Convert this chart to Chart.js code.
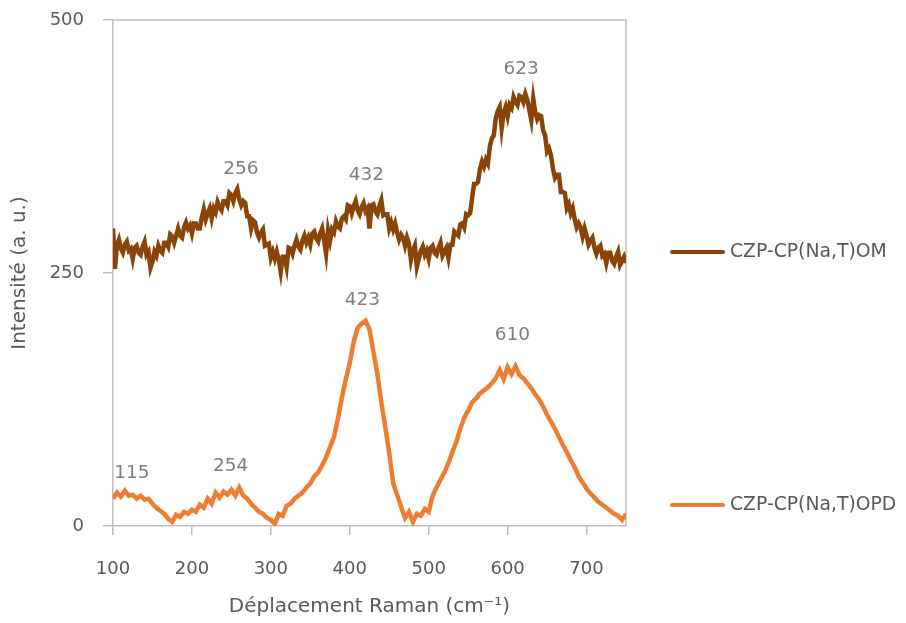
<!DOCTYPE html>
<html>
<head>
<meta charset="utf-8">
<script src="https://cdn.jsdelivr.net/npm/chart.js@4.4.1/dist/chart.umd.min.js"></script>
<style>
  html, body { margin: 0; padding: 0; background: #fff; }
  #wrap { width: 906px; height: 623px; }
</style>
</head>
<body>
<div id="wrap"><canvas id="chart" width="906" height="623"></canvas></div>
<script>
// Raman shift (cm-1) for the OM spectrum
const omShifts = [
  100, 102.5, 105, 107.5, 110, 112.5, 115, 117.5, 120, 122.5, 125, 127.5, 130, 132.5, 135, 137.5, 140, 142.5, 145, 147.5,
  150, 152.5, 155, 157.5, 160, 162.5, 165, 167.5, 170, 172.5, 175, 177.5, 180, 182.5, 185, 187.5, 190, 192.5, 195, 197.5,
  200, 202.5, 205, 207.5, 210, 212.5, 215, 217.5, 220, 222.5, 225, 227.5, 230, 232.5, 235, 237.5, 240, 242.5, 245, 247.5,
  250, 252.5, 255, 257.5, 260, 262.5, 265, 267.5, 270, 272.5, 275, 277.5, 280, 282.5, 285, 287.5, 290, 292.5, 295, 297.5,
  300, 302.5, 305, 307.5, 310, 312.5, 315, 317.5, 320, 322.5, 325, 327.5, 330, 332.5, 335, 337.5, 340, 342.5, 345, 347.5,
  350, 352.5, 355, 357.5, 360, 362.5, 365, 367.5, 370, 372.5, 375, 377.5, 380, 382.5, 385, 387.5, 390, 392.5, 395, 397.5,
  400, 402.5, 405, 407.5, 410, 412.5, 415, 417.5, 420, 422.5, 425, 427.5, 430, 432.5, 435, 437.5, 440, 442.5, 445, 447.5,
  450, 452.5, 455, 457.5, 460, 462.5, 465, 467.5, 470, 472.5, 475, 477.5, 480, 482.5, 485, 487.5, 490, 492.5, 495, 497.5,
  500, 502.5, 505, 507.5, 510, 512.5, 515, 517.5, 520, 522.5, 525, 527.5, 530, 532.5, 535, 537.5, 540, 542.5, 545, 547.5,
  550, 552.5, 555, 557.5, 560, 562.5, 565, 567.5, 570, 572.5, 575, 577.5, 580, 582.5, 585, 587.5, 590, 592.5, 595, 597.5,
  600, 602.5, 605, 607.5, 610, 612.5, 615, 617.5, 620, 622.5, 625, 627.5, 630, 632.5, 635, 637.5, 640, 642.5, 645, 647.5,
  650, 652.5, 655, 657.5, 660, 662.5, 665, 667.5, 670, 672.5, 675, 677.5, 680, 682.5, 685, 687.5, 690, 692.5, 695, 697.5,
  700, 702.5, 705, 707.5, 710, 712.5, 715, 717.5, 720, 722.5, 725, 727.5, 730, 732.5, 735, 737.5, 740, 742.5, 745, 747.5,
  750
];

const omValues = [
  294, 254, 278, 283, 274, 270, 278, 281, 272, 274, 264, 275, 277, 270, 268, 276, 281, 268, 271, 255,
  261, 271, 267, 277, 272, 270, 280, 280, 276, 288, 286, 280, 287, 294, 287, 285, 295, 300, 294, 297,
  289, 299, 299, 294, 294, 305, 313, 303, 309, 314, 304, 314, 310, 320, 315, 312, 321, 321, 317, 329,
  327, 321, 329, 333, 323, 317, 321, 319, 306, 306, 294, 302, 300, 290, 285, 290, 293, 277, 278, 279,
  265, 271, 264, 271, 263, 251, 266, 266, 256, 275, 274, 269, 277, 283, 276, 273, 282, 287, 280, 285,
  278, 289, 291, 284, 281, 289, 294, 282, 269, 292, 282, 293, 290, 301, 296, 294, 304, 306, 303, 317,
  316, 309, 316, 321, 312, 308, 315, 319, 311, 314, 294, 317, 318, 311, 308, 316, 322, 307, 308, 308,
  294, 300, 293, 299, 290, 283, 288, 285, 277, 285, 279, 263, 272, 277, 256, 264, 272, 276, 268, 272,
  264, 275, 277, 270, 268, 275, 280, 267, 271, 275, 265, 278, 278, 291, 289, 287, 298, 299, 295, 308,
  307, 309, 324, 338, 338, 340, 353, 360, 355, 362, 358, 375, 383, 386, 403, 410, 414, 393, 408, 414,
  405, 416, 413, 424, 419, 416, 425, 424, 419, 427, 421, 411, 401, 422, 409, 402, 406, 405, 391, 386,
  370, 373, 366, 353, 344, 347, 347, 330, 330, 329, 314, 318, 309, 314, 303, 295, 299, 295, 286, 294,
  287, 278, 282, 285, 275, 269, 275, 277, 267, 269, 260, 270, 270, 262, 259, 266, 271, 258, 262, 266,
  260
];

// Raman shift (cm-1) for the OPD spectrum
const opdShifts = [
  100, 105, 110, 115, 120, 125, 130, 135, 140, 145, 150, 155, 160, 165, 170, 175, 180, 185, 190, 195,
  200, 205, 210, 215, 220, 225, 230, 235, 240, 245, 250, 255, 260, 265, 270, 275, 280, 285, 290, 295,
  300, 305, 310, 315, 320, 325, 330, 335, 340, 345, 350, 355, 360, 365, 370, 375, 380, 385, 390, 395,
  400, 405, 410, 415, 420, 425, 430, 435, 440, 445, 450, 455, 460, 465, 470, 475, 480, 485, 490, 495,
  500, 505, 510, 515, 520, 525, 530, 535, 540, 545, 550, 555, 560, 565, 570, 575, 580, 585, 590, 595,
  600, 605, 610, 615, 620, 625, 630, 635, 640, 645, 650, 655, 660, 665, 670, 675, 680, 685, 690, 695,
  700, 705, 710, 715, 720, 725, 730, 735, 740, 745, 750
];

const opdValues = [
  27, 33, 29, 35, 30, 31, 27, 30, 26, 27, 22, 18, 15, 12, 7, 4, 11, 9, 14, 12,
  16, 14, 21, 18, 27, 22, 33, 28, 34, 31, 36, 30, 38, 30, 27, 22, 18, 14, 12, 8,
  6, 2, 12, 10, 20, 22, 27, 30, 33, 38, 42, 49, 53, 60, 68, 78, 88, 106, 127, 145,
  161, 182, 196, 200, 203, 194, 172, 150, 122, 98, 72, 42, 31, 19, 8, 14, 4, 12, 10, 17,
  14, 30, 38, 46, 53, 62, 73, 83, 96, 107, 114, 122, 126, 131, 134, 137, 141, 146, 154, 145,
  157, 150, 158, 149, 146, 141, 136, 130, 125, 118, 110, 103, 96, 88, 80, 73, 65, 58, 49, 43,
  37, 32, 28, 24, 21, 18, 15, 12, 10, 6, 12
];

const seriesNames = ['CZP-CP(Na,T)OM', 'CZP-CP(Na,T)OPD'];
const seriesColors = ['#8a4406', '#ed7d31'];

// peak labels: text, shift and intensity where the label sits
const peakTexts = ['256', '432', '623', '423', '610', '115', '254'];
const peakShifts = [262, 421, 617, 416, 606, 124, 249];
const peakLevels = [353, 347, 451, 223, 189, 52, 59];

const FONT = '"DejaVu Sans", sans-serif';
const GRAY = '#bfbfbf';
const TEXT = '#595959';

function toPoints(xs, ys) {
  return xs.map((x, i) => ({ x: x, y: ys[i] }));
}

const frame = {
  id: 'frame',
  beforeDatasetsDraw(chart) {
    const a = chart.chartArea;
    const ctx = chart.ctx;
    ctx.save();
    ctx.strokeStyle = GRAY;
    ctx.lineWidth = 1.5;
    ctx.beginPath();
    ctx.moveTo(a.left, a.top);
    ctx.lineTo(a.right, a.top);
    ctx.lineTo(a.right, a.bottom);
    ctx.stroke();
    ctx.restore();
  }
};

const peakLabels = {
  id: 'peakLabels',
  afterDatasetsDraw(chart) {
    const ctx = chart.ctx;
    const xs = chart.scales.x, ys = chart.scales.y;
    ctx.save();
    ctx.fillStyle = '#7f7f7f';
    ctx.font = '18.5px ' + FONT;
    ctx.textAlign = 'center';
    ctx.textBaseline = 'middle';
    peakTexts.forEach((t, i) => {
      ctx.fillText(t, xs.getPixelForValue(peakShifts[i]), ys.getPixelForValue(peakLevels[i]));
    });
    ctx.restore();
  }
};

const sideLegend = {
  id: 'sideLegend',
  afterDraw(chart) {
    const ctx = chart.ctx;
    const a = chart.chartArea;
    const rows = [a.top + 232, a.top + 485];
    ctx.save();
    ctx.font = '18.8px ' + FONT;
    ctx.textAlign = 'left';
    ctx.textBaseline = 'middle';
    chart.data.datasets.forEach((ds, i) => {
      const y = rows[i];
      ctx.strokeStyle = ds.borderColor;
      ctx.lineWidth = 4;
      ctx.lineCap = 'round';
      ctx.beginPath();
      ctx.moveTo(a.right + 46, y);
      ctx.lineTo(a.right + 97, y);
      ctx.stroke();
      ctx.fillStyle = TEXT;
      ctx.fillText(ds.label, a.right + 104, y);
    });
    ctx.restore();
  }
};

new Chart(document.getElementById('chart'), {
  type: 'line',
  data: {
    datasets: [
      {
        label: seriesNames[0],
        data: toPoints(omShifts, omValues),
        borderColor: seriesColors[0],
        borderWidth: 4.5,
        pointRadius: 0,
        tension: 0
      },
      {
        label: seriesNames[1],
        data: toPoints(opdShifts, opdValues),
        borderColor: seriesColors[1],
        borderWidth: 4.5,
        pointRadius: 0,
        tension: 0
      }
    ]
  },
  options: {
    responsive: false,
    animation: false,
    layout: { padding: { top: 20, right: 280, left: 0, bottom: 0 } },
    plugins: {
      legend: { display: false },
      tooltip: { enabled: false }
    },
    scales: {
      x: {
        type: 'linear',
        min: 100,
        max: 750,
        afterFit(scale) { scale.height = 97; },
        ticks: {
          stepSize: 100,
          includeBounds: false,
          color: TEXT,
          font: { family: FONT, size: 18 },
          padding: 24,
          maxRotation: 0
        },
        grid: { drawOnChartArea: false, color: GRAY, lineWidth: 1.5, tickLength: 9 },
        border: { color: GRAY, width: 1.5 },
        title: {
          display: true,
          text: 'Déplacement Raman (cm⁻¹)',
          color: TEXT,
          font: { family: FONT, size: 20 },
          padding: { top: 4, bottom: 4 }
        }
      },
      y: {
        min: 0,
        max: 500,
        afterFit(scale) {
          scale.width = 113;
          scale.paddingTop = 0;
          scale.paddingBottom = 0;
        },
        ticks: {
          stepSize: 250,
          color: TEXT,
          font: { family: FONT, size: 18 },
          padding: 19
        },
        grid: { drawOnChartArea: false, color: GRAY, lineWidth: 1.5, tickLength: 10 },
        border: { color: GRAY, width: 1.5 },
        title: {
          display: true,
          text: 'Intensité (a. u.)',
          color: TEXT,
          font: { family: FONT, size: 20 },
          padding: { top: 8, bottom: 0 }
        }
      }
    }
  },
  plugins: [frame, peakLabels, sideLegend]
});
</script>
</body>
</html>
